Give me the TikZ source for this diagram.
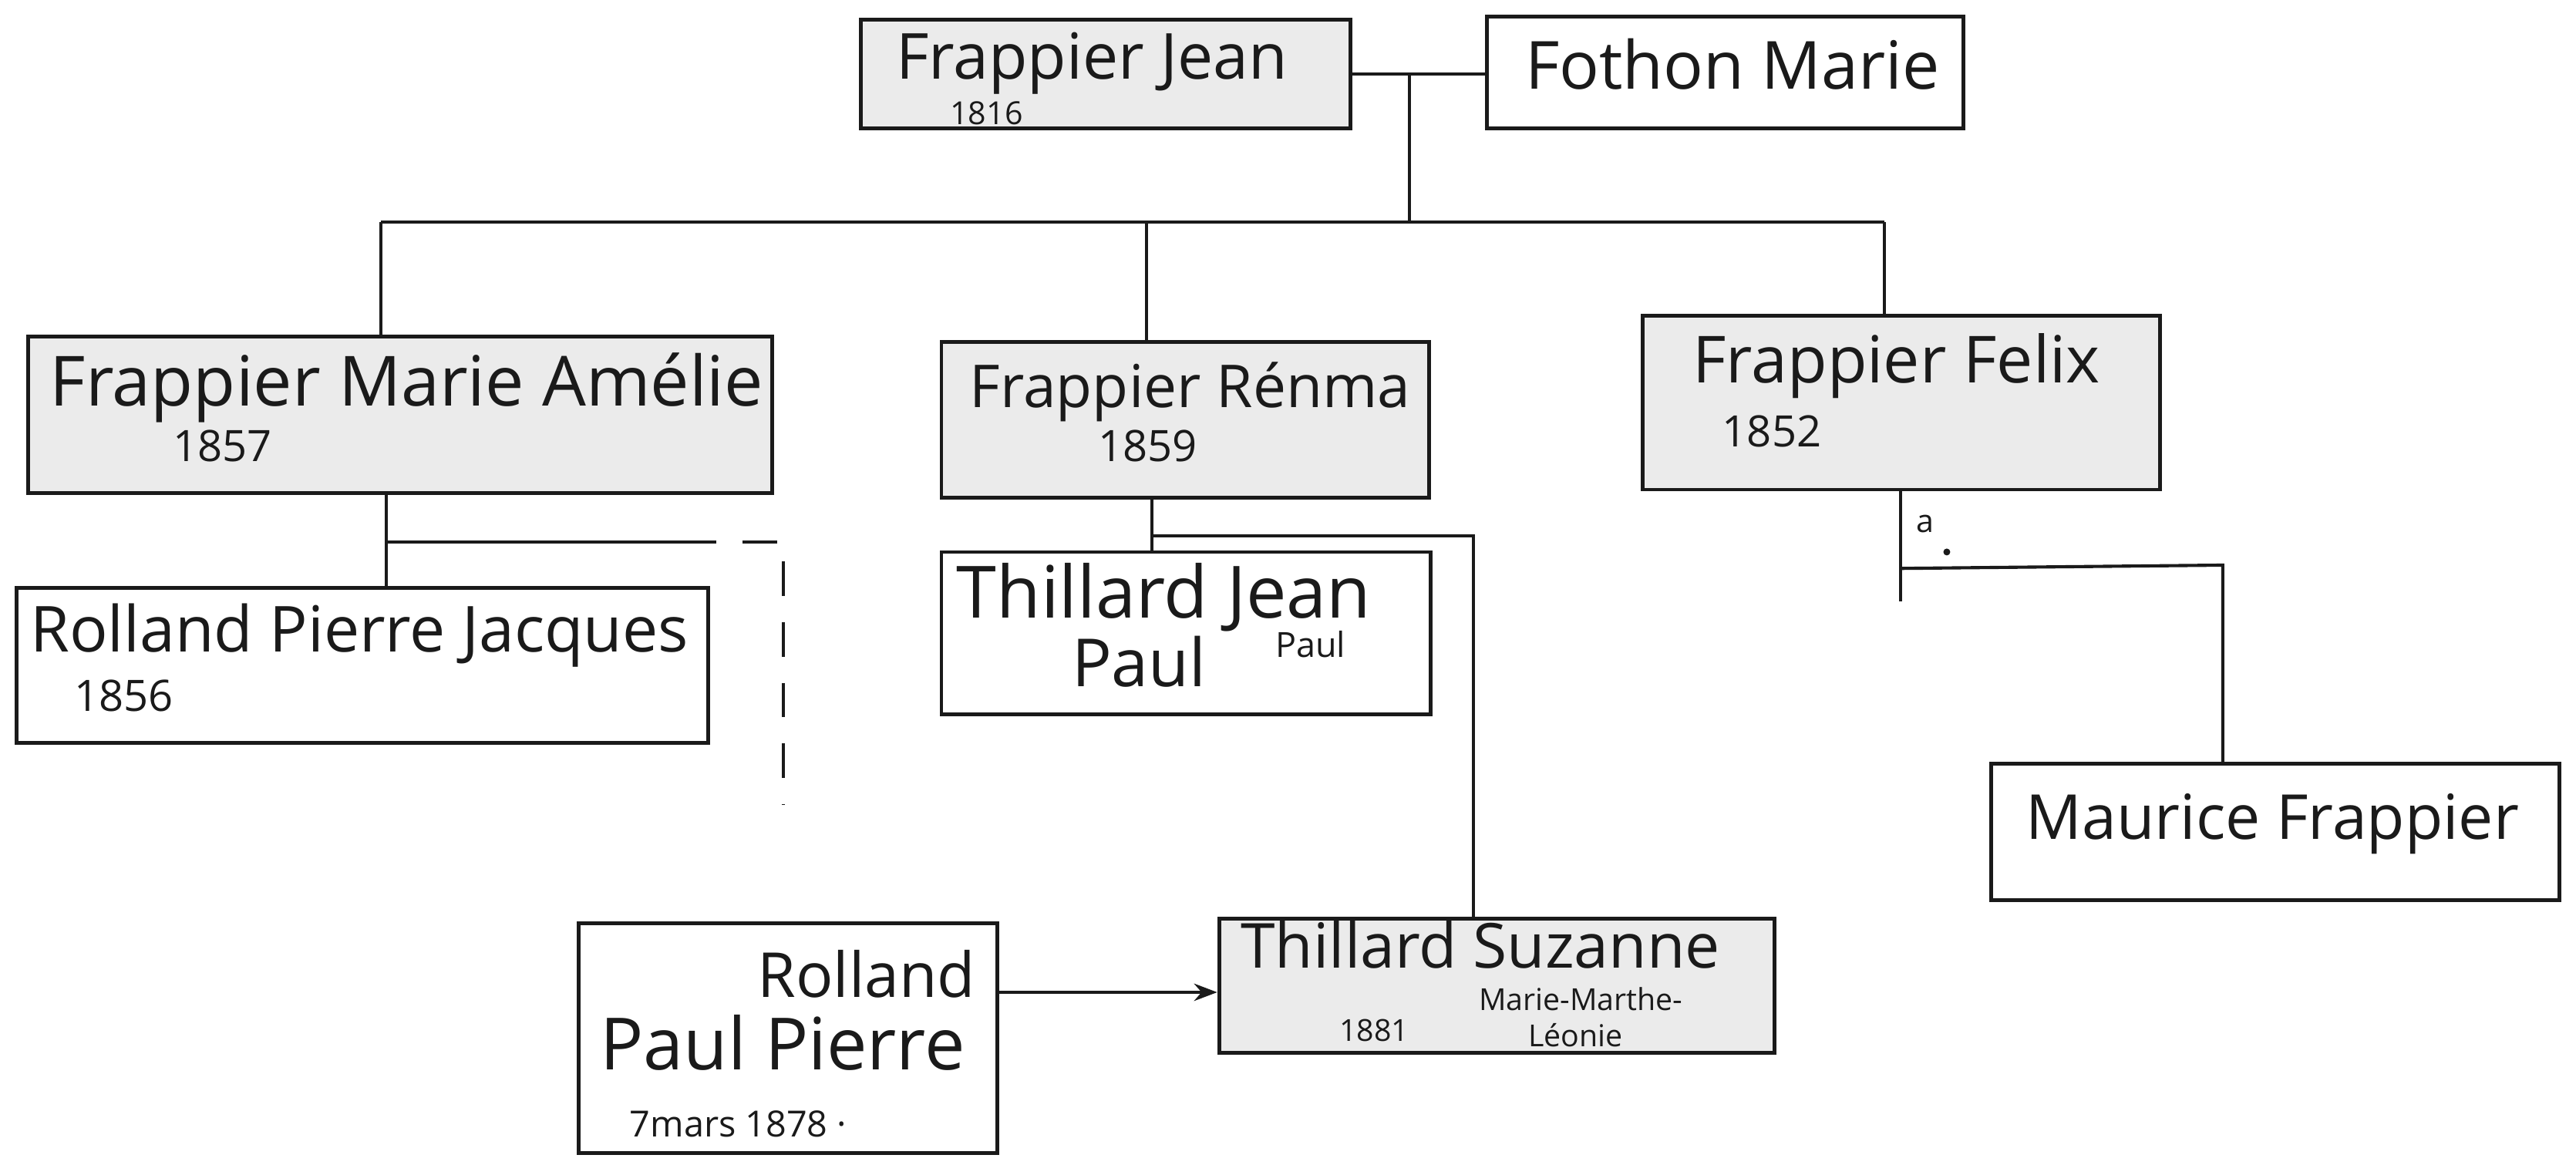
\documentclass[tikz,border=0pt]{standalone}
\usepackage{fontspec}
\setmainfont{Open Sans}
\usetikzlibrary{arrows.meta}
\definecolor{shade}{HTML}{EBEBEB}
\definecolor{ink}{HTML}{1A1A1A}
\newcommand\fsz[1]{\fontsize{#1}{#1}\selectfont}
\begin{document}
\begin{tikzpicture}[x=0.02cm,y=-0.02cm,
  gbox/.style={draw=ink, line width=1.3pt, fill=shade, inner sep=0pt},
  wbox/.style={draw=ink, line width=1.3pt, fill=white, inner sep=0pt},
  link/.style={draw=ink, line width=1.1pt},
  dlink/.style={draw=ink, line width=1.1pt, dash pattern=on 12pt off 9pt},
  big/.style={font=\fsz{20}, inner sep=0pt, anchor=base west, text=ink},
  mid/.style={font=\fsz{15}, inner sep=0pt, anchor=base west, text=ink},
  tiny/.style={font=\fsz{11}, inner sep=0pt, anchor=base west, text=ink}]
\useasboundingbox[fill=white] (0,0) rectangle (1568,709);

% boxes
\node[gbox, minimum width=5.96cm, minimum height=1.32cm] (jean) at (673,45) {};
\node[wbox, minimum width=5.8cm, minimum height=1.36cm] (fothon) at (1050,44) {};
\node[gbox, minimum width=9.06cm, minimum height=1.9cm] (amelie) at (243.5,252.5) {};
\node[gbox, minimum width=5.94cm, minimum height=1.9cm] (renma) at (721.5,255.5) {};
\node[gbox, minimum width=6.3cm, minimum height=2.12cm] (felix) at (1157.5,245) {};
\node[wbox, minimum width=8.42cm, minimum height=1.88cm] (pierrej) at (220.5,405) {};
\node[wbox, minimum width=5.96cm, minimum height=1.98cm] (jeanpaul) at (722,385.5) {};
\node[wbox, minimum width=6.92cm, minimum height=1.66cm] (maurice) at (1385,506.5) {};
\node[wbox, minimum width=5.1cm, minimum height=2.8cm] (paulp) at (479.5,632) {};
\node[gbox, minimum width=6.76cm, minimum height=1.64cm] (suzanne) at (911,600) {};

% texts
\node[big, font=\fsz{22}] (tjean) at (545,48) {Frappier Jean};
\node[tiny] (tjeany) at (578,76) {1816};
\node[big, font=\fsz{23}] (tfothon) at (928,54) {Fothon Marie};
\node[big, font=\fsz{24}] (tamelie) at (30,247) {Frappier Marie Amélie};
\node[mid] (tameliey) at (105,281) {1857};
\node[big, font=\fsz{20.5}] (trenma) at (590,248) {Frappier Rénma};
\node[mid] (trenmay) at (668,281) {1859};
\node[big, font=\fsz{22.5}] (tfelix) at (1030,233) {Frappier Felix};
\node[mid] (tfelixy) at (1048,272) {1852};
\node[big, font=\fsz{22}] (tpierrej) at (18,397) {Rolland Pierre Jacques};
\node[mid] (tpierrejy) at (45,433) {1856};
\node[big, font=\fsz{25}] (tjeanpaul) at (582,376) {Thillard Jean};
\node[big, font=\fsz{23}] (tpaul) at (652,418) {Paul};
\node[tiny, font=\fsz{12}] (tpauls) at (776,400) {Paul};
\node[big, font=\fsz{21.5}] (tmaurice) at (1233,511) {Maurice Frappier};
\node[big, font=\fsz{21.5}, anchor=base east] (trolland) at (594,607) {Rolland};
\node[big, font=\fsz{25}] (tpaulp) at (365,651) {Paul Pierre};
\node[tiny, font=\fsz{12.5}] (tpaulpy) at (383,692) {7mars 1878 ·};
\node[big, font=\fsz{21.5}] (tsuzanne) at (755,589) {Thillard Suzanne};
\node[tiny, font=\fsz{10.5}] (tsuzy) at (815,634) {1881};
\node[tiny, font=\fsz{10.5}] (tsuzm) at (900,615) {Marie-Marthe-};
\node[tiny, font=\fsz{10.5}] (tsuzl) at (930,637) {Léonie};
\node[tiny] (ta) at (1166,324) {a};

% connector points
\coordinate (couple) at (858,45);
\coordinate (bar) at (858,135);
\coordinate (barL) at (232,135);
\coordinate (barM) at (698,135);
\coordinate (barR) at (1147,135);
\coordinate (aL) at (235,330);
\coordinate (aS) at (415,330);
\coordinate (aC) at (477,330);
\coordinate (aE) at (477,490);
\coordinate (rL) at (701,326);
\coordinate (rR) at (897,326);
\coordinate (fT) at (1157,346);
\coordinate (fE) at (1157,366);
\coordinate (fR) at (1353,344);
\coordinate (dotp) at (1185,336);

% connectors
\draw[link] (jean.east |- couple) -- (fothon.west |- couple);
\draw[link] (couple) -- (bar);
\draw[link] (barL) -- (barR);
\draw[link] (barL) -- (barL |- amelie.north);
\draw[link] (barM) -- (barM |- renma.north);
\draw[link] (barR) -- (barR |- felix.north);
\draw[link] (aL |- amelie.south) -- (aL |- pierrej.north);
\draw[link] (aL) -- (aS);
\draw[dlink] (aS) -- (aC) -- (aE);
\draw[link] (rL |- renma.south) -- (rL |- jeanpaul.north);
\draw[link] (rL) -- (rR) -- (rR |- suzanne.north);
\draw[link] (fT |- felix.south) -- (fE);
\draw[link] (fT) -- (fR) -- (fR |- maurice.north);
\fill[ink] (dotp) circle (1.2pt);
\draw[link, -{Stealth[length=8pt,width=6pt]}] (paulp.east |- 0,604) -- (suzanne.west |- 0,604);
\end{tikzpicture}
\end{document}
